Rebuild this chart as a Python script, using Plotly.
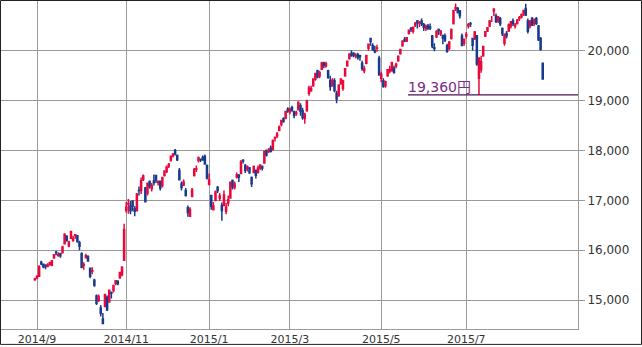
import plotly.graph_objects as go

dates = [
 "2014-08-29",
 "2014-09-01","2014-09-02","2014-09-03","2014-09-04","2014-09-05","2014-09-08","2014-09-09","2014-09-10","2014-09-11","2014-09-12",
 "2014-09-16","2014-09-17","2014-09-18","2014-09-19","2014-09-22","2014-09-24","2014-09-25","2014-09-26","2014-09-29","2014-09-30",
 "2014-10-01","2014-10-02","2014-10-03","2014-10-06","2014-10-07","2014-10-08","2014-10-09","2014-10-10","2014-10-14","2014-10-15",
 "2014-10-16","2014-10-17","2014-10-20","2014-10-21","2014-10-22","2014-10-23","2014-10-24","2014-10-27","2014-10-28","2014-10-29",
 "2014-10-30","2014-10-31",
 "2014-11-04","2014-11-05","2014-11-06","2014-11-07","2014-11-10","2014-11-11","2014-11-12","2014-11-13","2014-11-14","2014-11-17",
 "2014-11-18","2014-11-19","2014-11-20","2014-11-21","2014-11-25","2014-11-26","2014-11-27","2014-11-28",
 "2014-12-01","2014-12-02","2014-12-03","2014-12-04","2014-12-05","2014-12-08","2014-12-09","2014-12-10","2014-12-11","2014-12-12",
 "2014-12-15","2014-12-16","2014-12-17","2014-12-18","2014-12-19","2014-12-22","2014-12-24","2014-12-25","2014-12-26","2014-12-29",
 "2014-12-30",
 "2015-01-05","2015-01-06","2015-01-07","2015-01-08","2015-01-09","2015-01-13","2015-01-14","2015-01-15","2015-01-16","2015-01-19",
 "2015-01-20","2015-01-21","2015-01-22","2015-01-23","2015-01-26","2015-01-27","2015-01-28","2015-01-29","2015-01-30",
 "2015-02-02","2015-02-03","2015-02-04","2015-02-05","2015-02-06","2015-02-09","2015-02-10","2015-02-12","2015-02-13","2015-02-16",
 "2015-02-17","2015-02-18","2015-02-19","2015-02-20","2015-02-23","2015-02-24","2015-02-25","2015-02-26","2015-02-27",
 "2015-03-02","2015-03-03","2015-03-04","2015-03-05","2015-03-06","2015-03-09","2015-03-10","2015-03-11","2015-03-12","2015-03-13",
 "2015-03-16","2015-03-17","2015-03-18","2015-03-19","2015-03-20","2015-03-23","2015-03-24","2015-03-25","2015-03-26","2015-03-27",
 "2015-03-30","2015-03-31",
 "2015-04-01","2015-04-02","2015-04-03","2015-04-06","2015-04-07","2015-04-08","2015-04-09","2015-04-10","2015-04-13","2015-04-14",
 "2015-04-15","2015-04-16","2015-04-17","2015-04-20","2015-04-21","2015-04-22","2015-04-23","2015-04-24","2015-04-27","2015-04-28",
 "2015-04-30",
 "2015-05-01","2015-05-07","2015-05-08","2015-05-11","2015-05-12","2015-05-13","2015-05-14","2015-05-15","2015-05-18","2015-05-19",
 "2015-05-20","2015-05-21","2015-05-22","2015-05-25","2015-05-26","2015-05-27","2015-05-28","2015-05-29",
 "2015-06-01","2015-06-02","2015-06-03","2015-06-04","2015-06-05","2015-06-08","2015-06-09","2015-06-10","2015-06-11","2015-06-12",
 "2015-06-15","2015-06-16","2015-06-17","2015-06-18","2015-06-19","2015-06-22","2015-06-23","2015-06-24","2015-06-25","2015-06-26",
 "2015-06-29","2015-06-30",
 "2015-07-01","2015-07-02","2015-07-03","2015-07-06","2015-07-07","2015-07-08","2015-07-09","2015-07-10","2015-07-13","2015-07-14",
 "2015-07-15","2015-07-16","2015-07-17","2015-07-21","2015-07-22","2015-07-23","2015-07-24","2015-07-27","2015-07-28","2015-07-29",
 "2015-07-30","2015-07-31",
 "2015-08-03","2015-08-04","2015-08-05","2015-08-06","2015-08-07","2015-08-10","2015-08-11","2015-08-12","2015-08-13","2015-08-14",
 "2015-08-17","2015-08-18","2015-08-19","2015-08-20","2015-08-21",
]

opens = [
 15410,
 15450,15480,15760,15720,15700,15680,15720,15700,15850,15960,
 15900,15930,15950,16130,16280,16090,16240,16200,16300,16290,
 16150,15930,15700,15850,15870,15640,15580,15400,15080,14990,
 14840,14620,14870,15050,14960,15150,15190,15340,15380,15450,
 15510,15800,
 16800,16930,16890,16990,16830,16790,17200,17200,17420,17250,
 17150,17380,17240,17390,17500,17360,17380,17300,
 17500,17580,17690,17800,17900,18000,17900,17600,17330,17310,
 17200,16850,16680,17080,17500,17630,17800,17820,17860,17880,
 17700,
 17320,17100,16810,17000,17260,17050,16900,16900,16780,16950,
 17050,17400,17260,17470,17500,17540,17800,17700,17640,
 17650,17460,17560,17600,17560,17650,17680,17750,18000,17980,
 18050,18020,18250,18290,18400,18520,18640,18650,18830,
 18780,18860,18780,18740,18820,18900,18800,18650,18800,19150,
 19200,19300,19430,19600,19500,19630,19750,19700,19600,19400,
 19300,19400,
 19150,19100,19340,19250,19500,19700,19850,19950,19950,19900,
 19920,19900,19750,19600,19750,20050,20250,20100,20000,20050,
 19850,
 19450,19400,19300,19500,19600,19600,19650,19700,19800,19950,
 20100,20230,20200,20350,20450,20400,20520,20600,
 20560,20600,20530,20450,20500,20480,20300,20060,20280,20430,
 20350,20300,20300,20100,20050,20250,20550,20850,20850,20800,
 20300,20150,
 20300,20500,20550,20250,20250,20300,19450,19620,19900,20300,
 20400,20500,20650,20800,20700,20600,20650,20450,20150,20350,
 20400,20500,
 20600,20500,20550,20650,20680,20750,20850,20600,20500,20650,
 20550,20650,20500,20250,19750,
]

highs = [
 15450,
 15500,15700,15790,15730,15720,15740,15770,15800,15920,15990,
 15960,15950,16090,16340,16300,16190,16380,16290,16320,16300,
 16190,15960,15760,15930,15900,15650,15660,15430,15110,15110,
 14900,14740,15120,15090,15200,15170,15300,15400,15400,15570,
 15680,16530,
 16970,17030,16990,17000,16880,17150,17280,17460,17520,17270,
 17360,17400,17350,17520,17510,17400,17400,17470,
 17600,17700,17750,17900,17950,18030,17920,17650,17380,17420,
 17250,16900,16860,17250,17650,17700,17880,17840,17900,17920,
 17720,
 17540,17110,16970,17200,17290,17150,16960,17200,16950,17100,
 17380,17420,17380,17560,17530,17810,17830,17730,17700,
 17670,17480,17700,17620,17700,17720,17700,18000,18020,18050,
 18100,18220,18280,18370,18500,18620,18670,18800,18870,
 18860,18900,18800,18800,18990,18950,18860,18760,19020,19300,
 19300,19450,19560,19620,19600,19780,19780,19780,19620,19500,
 19450,19450,
 19200,19330,19450,19420,19650,19800,19950,20010,19970,19950,
 19960,19920,19800,19700,19920,20140,20250,20150,20100,20120,
 19900,
 19580,19450,19400,19630,19700,19780,19700,19760,19900,20040,
 20200,20280,20280,20420,20480,20480,20580,20620,
 20600,20650,20560,20530,20540,20550,20320,20150,20420,20450,
 20420,20330,20350,20140,20200,20450,20820,20952,20880,20820,
 20350,20250,
 20380,20560,20580,20260,20400,20320,19870,19900,20100,20400,
 20480,20620,20700,20850,20750,20700,20680,20470,20350,20400,
 20550,20600,
 20650,20560,20640,20700,20750,20820,20946,20650,20620,20680,
 20650,20680,20520,20280,19760,
]

lows = [
 15390,
 15420,15470,15700,15640,15620,15660,15690,15680,15830,15900,
 15870,15850,15940,16120,16170,16060,16230,16170,16230,16150,
 16000,15640,15610,15840,15770,15440,15520,15270,14900,14960,
 14670,14530,14860,14780,14950,15030,15150,15300,15300,15430,
 15480,15790,
 16750,16730,16720,16780,16680,16780,17100,17130,17390,16970,
 17100,17240,17180,17300,17350,17300,17200,17260,
 17480,17550,17650,17780,17860,17900,17790,17400,17200,17290,
 17080,16670,16670,17070,17480,17570,17760,17770,17800,17720,
 17420,
 17320,16810,16810,16990,17150,16990,16590,16890,16720,16880,
 17040,17220,17220,17440,17370,17530,17740,17550,17580,
 17530,17270,17550,17440,17540,17610,17600,17740,17880,17950,
 17960,18000,18180,18250,18390,18480,18560,18630,18760,
 18730,18780,18650,18700,18810,18700,18620,18540,18780,19100,
 19180,19280,19400,19450,19450,19620,19650,19660,19440,19200,
 19280,19170,
 18950,19080,19320,19200,19480,19680,19820,19880,19870,19850,
 19820,19800,19600,19550,19730,20000,20100,20000,19950,19980,
 19500,
 19370,19260,19260,19480,19550,19580,19540,19650,19780,19920,
 20080,20170,20180,20330,20380,20350,20480,20450,
 20480,20500,20400,20400,20420,20420,20050,19990,20260,20320,
 20300,20130,20180,19960,20010,20230,20530,20800,20750,20650,
 20090,20100,
 20250,20450,20480,20000,20220,19700,19115,19560,19880,20280,
 20380,20480,20580,20700,20560,20560,20500,20300,20100,20250,
 20380,20450,
 20500,20450,20530,20600,20650,20700,20700,20350,20450,20500,
 20500,20520,20200,20000,19430,
]

closes = [
 15424,
 15476,15668,15728,15676,15668,15705,15749,15788,15909,15948,
 15911,15888,16067,16321,16205,16167,16374,16229,16310,16173,
 16082,15661,15708,15890,15783,15478,15595,15300,14936,15073,
 14738,14532,15111,14804,15195,15138,15291,15388,15329,15553,
 15658,16413,
 16862,16937,16792,16880,16780,17124,17197,17392,17490,16973,
 17344,17288,17300,17357,17407,17383,17248,17459,
 17590,17663,17720,17887,17920,17935,17813,17412,17257,17371,
 17099,16755,16819,17210,17621,17635,17854,17818,17808,17729,
 17450,
 17408,16883,16885,17167,17197,17087,16795,17108,16864,17014,
 17366,17280,17329,17511,17468,17768,17795,17606,17674,
 17558,17335,17678,17504,17648,17711,17652,17979,17913,18004,
 17987,18199,18264,18332,18466,18603,18585,18785,18797,
 18826,18815,18703,18751,18971,18790,18665,18723,18991,19254,
 19246,19437,19544,19476,19560,19754,19713,19746,19471,19285,
 19411,19206,
 19034,19312,19435,19397,19640,19789,19937,19907,19905,19908,
 19869,19885,19652,19634,19909,20133,20187,20020,19983,20058,
 19520,
 19531,19291,19379,19620,19624,19764,19570,19732,19890,20026,
 20196,20202,20264,20413,20437,20472,20551,20563,
 20569,20543,20473,20488,20460,20457,20096,20046,20382,20407,
 20387,20257,20219,19990,20174,20428,20809,20868,20771,20706,
 20109,20235,
 20329,20522,20539,20112,20376,19737,19855,19779,20089,20385,
 20463,20600,20650,20841,20593,20683,20544,20350,20328,20302,
 20522,20585,
 20548,20520,20614,20664,20724,20808,20720,20392,20595,20519,
 20620,20554,20222,20033,19435,
]

support_level = 19115
support_label = "19,360円"
support_start = "2015-05-25"

y_ticks = [15000, 16000, 17000, 18000, 19000, 20000]
y_range = [14420, 21000]
tick_months = [(2014, 9), (2014, 11), (2015, 1), (2015, 3), (2015, 5), (2015, 7)]

idx = list(range(len(dates)))

# first trading day of each labelled month -> tick positions
tick_vals, tick_text = [], []
for (yy, mm) in tick_months:
    key = f"{yy}-{mm:02d}"
    i = next(k for k, d in enumerate(dates) if d.startswith(key))
    tick_vals.append(i)
    tick_text.append(f"{yy}/{mm}")

x_range = [tick_vals[0] - 16.94, tick_vals[0] + 254.6]

UP = "#e8083c"
DOWN = "#173a8e"

fig = go.Figure()
fig.add_trace(go.Candlestick(
    x=idx, open=opens, high=highs, low=lows, close=closes,
    increasing=dict(line=dict(color=UP, width=1.5), fillcolor=UP),
    decreasing=dict(line=dict(color=DOWN, width=1.5), fillcolor=DOWN),
    whiskerwidth=0,
    showlegend=False,
))

start_i = dates.index(support_start) - 0.4
fig.add_shape(type="line", xref="x", yref="y", x0=start_i, x1=x_range[1],
              y0=support_level, y1=support_level,
              line=dict(color="#4e104e", width=1.2))
fig.add_annotation(x=start_i, y=support_level, xref="x", yref="y",
                   text=support_label, showarrow=False,
                   xanchor="left", yanchor="bottom", xshift=-2, yshift=-2,
                   font=dict(family="DejaVu Sans, Noto Sans CJK JP", size=14, color="#7a2c86"))

# outer border of the picture
W, H = 642, 347
L, R, T, B = 1, 64, 1, 16
pw, ph = W - L - R, H - T - B
fig.add_shape(type="rect", xref="paper", yref="paper",
              x0=(0.5 - L) / pw, x1=(W - 0.5 - L) / pw,
              y0=-(H - 0.5 - T - ph) / ph, y1=1 + (T - 0.5) / ph,
              line=dict(color="#222222", width=1), fillcolor="rgba(0,0,0,0)")

fig.update_layout(
    width=W, height=H,
    margin=dict(l=L, r=R, t=T, b=B, pad=0),
    paper_bgcolor="white", plot_bgcolor="white",
    font=dict(family="DejaVu Sans", size=11, color="#333333"),
    xaxis=dict(range=x_range, tickvals=tick_vals, ticktext=tick_text,
               showgrid=True, gridcolor="#9a9a9a", gridwidth=1,
               showline=True, linecolor="#9a9a9a", linewidth=1,
               ticks="", zeroline=False, rangeslider=dict(visible=False),
               tickfont=dict(size=11, color="#333333")),
    yaxis=dict(range=y_range, tickvals=y_ticks, tickformat=",d", side="right",
               showgrid=True, gridcolor="#9a9a9a", gridwidth=1,
               showline=True, linecolor="#9a9a9a", linewidth=1,
               ticks="outside", ticklen=6, tickcolor="#9a9a9a",
               zeroline=False, tickfont=dict(size=12, color="#333333")),
)

fig.write_html("out.html")
